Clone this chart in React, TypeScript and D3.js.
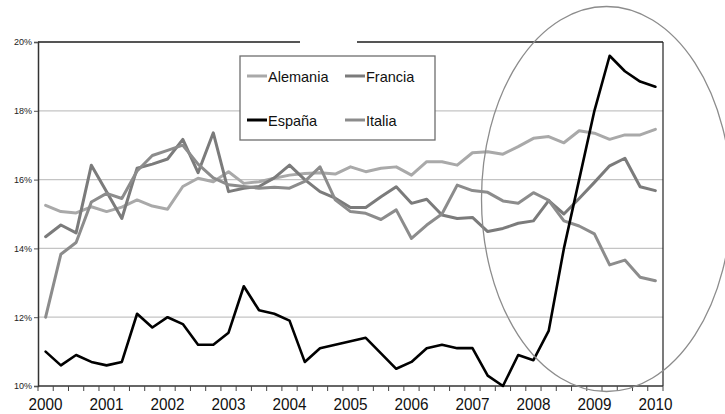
import * as d3 from "d3";
import { useEffect, useRef } from "react";

// quarterly series, 2000 T1 .. 2010 T1 (41 points)
const years = ["2000", "2001", "2002", "2003", "2004", "2005", "2006", "2007", "2008", "2009", "2010"];
const quarterNames = ["T1", "T2", "T3", "T4"];

const alemania = [15.25, 15.07, 15.03, 15.21, 15.07, 15.2, 15.41, 15.23, 15.14, 15.8, 16.04, 15.94, 16.23, 15.89, 15.94, 16.04, 16.13, 16.18, 16.2, 16.16, 16.37, 16.23, 16.33, 16.37, 16.13, 16.52, 16.52, 16.42, 16.78, 16.81, 16.74, 16.96, 17.2, 17.25, 17.07, 17.42, 17.35, 17.17, 17.3, 17.3, 17.46];
const francia = [14.34, 14.68, 14.45, 16.42, 15.65, 14.87, 16.33, 16.45, 16.6, 17.17, 16.2, 17.36, 15.65, 15.75, 15.8, 16.05, 16.42, 16.0, 15.65, 15.46, 15.19, 15.19, 15.5, 15.79, 15.31, 15.43, 14.97, 14.87, 14.9, 14.49, 14.58, 14.73, 14.8, 15.39, 15.0, 15.45, 15.92, 16.4, 16.62, 15.79, 15.68];
const espana = [11.0, 10.6, 10.9, 10.7, 10.6, 10.7, 12.1, 11.7, 12.0, 11.8, 11.2, 11.2, 11.55, 12.9, 12.2, 12.1, 11.9, 10.7, 11.1, 11.2, 11.3, 11.4, 10.95, 10.5, 10.7, 11.1, 11.2, 11.1, 11.1, 10.3, 10.0, 10.9, 10.75, 11.6, 14.0, 16.0, 18.0, 19.6, 19.15, 18.85, 18.7];
const italia = [12.0, 13.83, 14.17, 15.35, 15.6, 15.45, 16.25, 16.7, 16.85, 17.0, 16.45, 16.05, 15.85, 15.8, 15.75, 15.78, 15.75, 15.95, 16.37, 15.41, 15.07, 15.02, 14.84, 15.12, 14.29, 14.68, 15.0, 15.84, 15.68, 15.63, 15.38, 15.31, 15.62, 15.4, 14.8, 14.65, 14.42, 13.52, 13.66, 13.16, 13.06];

const yTicks = [10, 12, 14, 16, 18, 20];

const categories = years.flatMap((y) => quarterNames.map((q) => y + q)).slice(0, espana.length);

const series = [
    { name: "Alemania", values: alemania, color: "#a9a9a9", width: 3 },
    { name: "Francia", values: francia, color: "#7b7b7b", width: 3 },
    { name: "Italia", values: italia, color: "#8c8c8c", width: 3 },
    { name: "España", values: espana, color: "#000000", width: 2.6 },
];

const legendItems = [
    { name: "Alemania", color: "#a9a9a9", col: 0, row: 0 },
    { name: "Francia", color: "#7b7b7b", col: 1, row: 0 },
    { name: "España", color: "#000000", col: 0, row: 1 },
    { name: "Italia", color: "#8c8c8c", col: 1, row: 1 },
];

const FONT = "'Liberation Sans', Arial, sans-serif";

function ParoChart({
    width = 725,
    height = 414,
    marginTop = 42,
    marginRight = 62,
    marginBottom = 28,
    marginLeft = 38,
}) {
    const svgRef = useRef(null);

    useEffect(() => {
        const svg = d3.select(svgRef.current);
        svg.selectAll("*").remove();

        const x = d3.scaleBand(categories, [marginLeft, width - marginRight]).padding(0);
        const y = d3.scaleLinear([10, 20], [height - marginBottom, marginTop]);
        const cx = (i) => x(categories[i]) + x.bandwidth() / 2;

        svg.append("rect").attr("width", width).attr("height", height).attr("fill", "#fff");

        // gridlines
        svg.append("g").selectAll("line")
            .data(yTicks.filter((t) => t > 10 && t < 20))
            .join("line")
            .attr("x1", marginLeft).attr("x2", width - marginRight)
            .attr("y1", (d) => y(d)).attr("y2", (d) => y(d))
            .attr("stroke", "#c4c4c4").attr("stroke-width", 1.2);

        // frame: top border (broken), right border
        const top = y(20);
        svg.append("line").attr("x1", marginLeft).attr("x2", 300).attr("y1", top).attr("y2", top)
            .attr("stroke", "#555").attr("stroke-width", 2);
        svg.append("line").attr("x1", 357).attr("x2", width - marginRight).attr("y1", top).attr("y2", top)
            .attr("stroke", "#555").attr("stroke-width", 2);
        svg.append("line").attr("x1", width - marginRight).attr("x2", width - marginRight)
            .attr("y1", top).attr("y2", y(10)).attr("stroke", "#222").attr("stroke-width", 1.2);

        // y axis
        const yAxis = d3.axisLeft(y).tickValues(yTicks).tickSize(4).tickFormat((d) => d + "%");
        const gy = svg.append("g").attr("transform", `translate(${marginLeft},0)`).call(yAxis);
        gy.select(".domain").attr("stroke", "#333").attr("stroke-width", 1.5);
        gy.selectAll(".tick line").attr("stroke", "#555");
        gy.selectAll("text").attr("font-family", FONT).attr("font-size", 9).attr("fill", "#222")
            .attr("x", -6);

        // x axis: ticks between categories
        const bottom = y(10);
        svg.append("line").attr("x1", marginLeft).attr("x2", width - marginRight)
            .attr("y1", bottom).attr("y2", bottom).attr("stroke", "#333").attr("stroke-width", 1.5);
        svg.append("g").selectAll("line")
            .data(d3.range(categories.length + 1))
            .join("line")
            .attr("x1", (d) => marginLeft + d * x.bandwidth())
            .attr("x2", (d) => marginLeft + d * x.bandwidth())
            .attr("y1", bottom).attr("y2", bottom + 5)
            .attr("stroke", "#444").attr("stroke-width", 1);

        svg.append("g").selectAll("text")
            .data(years)
            .join("text")
            .attr("x", (d) => cx(categories.indexOf(d + "T1")))
            .attr("y", 410)
            .attr("text-anchor", "middle")
            .attr("font-family", FONT)
            .attr("font-size", 16)
            .attr("textLength", 34)
            .attr("lengthAdjust", "spacingAndGlyphs")
            .attr("fill", "#111")
            .text((d) => d);

        // series lines
        const line = d3.line().x((d, i) => cx(i)).y((d) => y(d));
        svg.append("g").selectAll("path")
            .data(series)
            .join("path")
            .attr("d", (s) => line(s.values))
            .attr("fill", "none")
            .attr("stroke", (s) => s.color)
            .attr("stroke-width", (s) => s.width)
            .attr("stroke-linejoin", "round")
            .attr("stroke-linecap", "round");

        // legend
        const lg = svg.append("g").attr("transform", "translate(240,56)");
        lg.append("rect").attr("width", 195).attr("height", 84)
            .attr("fill", "#fff").attr("stroke", "#6e6e6e").attr("stroke-width", 1.3);
        const item = lg.selectAll("g.item").data(legendItems).join("g")
            .attr("class", "item")
            .attr("transform", (d) => `translate(${7 + d.col * 98},${20 + d.row * 44})`);
        item.append("line").attr("x1", 0).attr("x2", 20).attr("y1", 0).attr("y2", 0)
            .attr("stroke", (d) => d.color).attr("stroke-width", 3);
        item.append("text").attr("x", 21).attr("y", 5.5)
            .attr("font-family", FONT).attr("font-size", 14.5).attr("fill", "#111")
            .text((d) => d.name);

        // annotation ellipse around 2008-2010
        svg.append("ellipse")
            .attr("cx", 606.5).attr("cy", 199).attr("rx", 125).attr("ry", 192.5)
            .attr("fill", "none").attr("stroke", "#8c8c8c").attr("stroke-width", 1.3);
    }, []);

    return <svg ref={svgRef} width={width} height={height} style={{ position: "absolute", left: 0, top: 0 }} />;
}

export default function App() {
    return <ParoChart />;
}
